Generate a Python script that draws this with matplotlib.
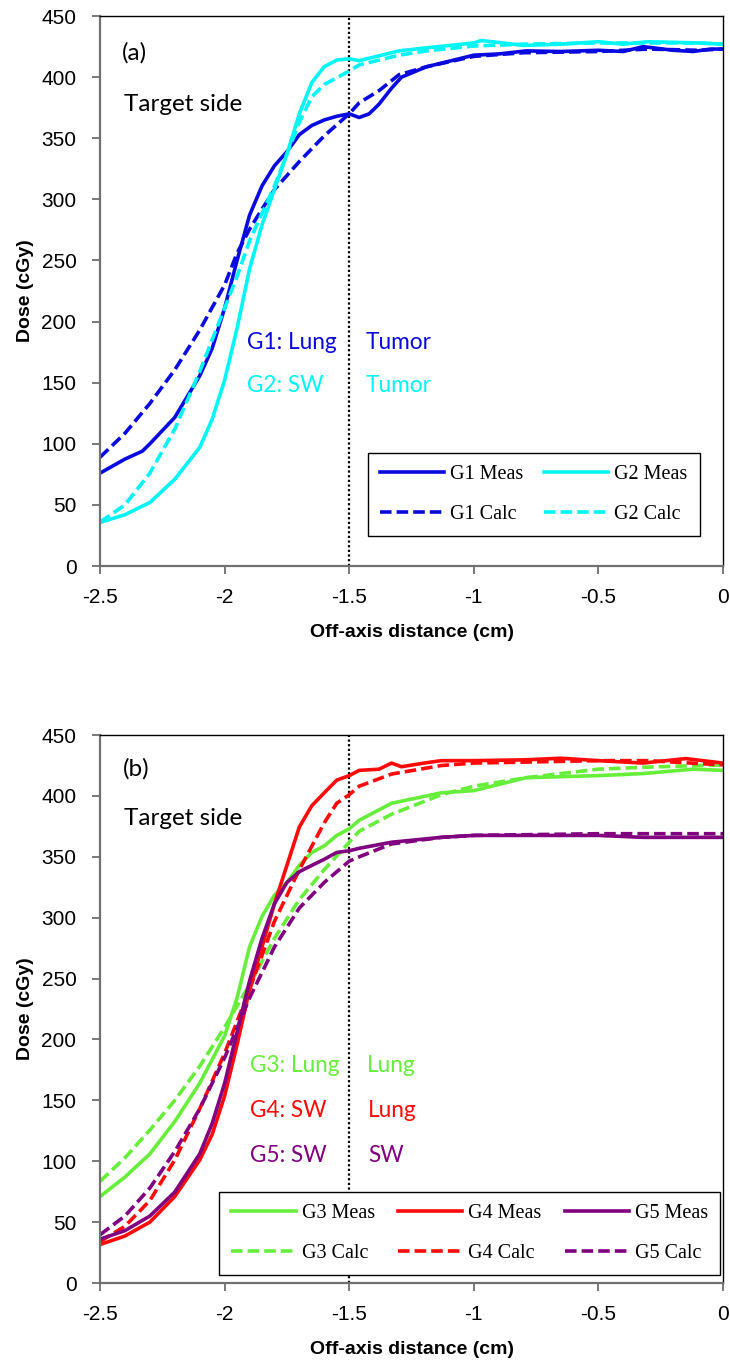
import matplotlib
matplotlib.use("Agg")
import matplotlib.pyplot as plt

# ---- data (x in cm, dose in cGy) ----
# panel (a)
g1_meas_x = [-2.5, -2.4, -2.33, -2.3, -2.2, -2.1, -2.05, -2.0, -1.95, -1.9, -1.85, -1.8, -1.75, -1.7,
             -1.65, -1.6, -1.55, -1.5, -1.46, -1.42, -1.38, -1.33, -1.29, -1.19, -1.1, -1.0, -0.9,
             -0.79, -0.65, -0.5, -0.4, -0.32, -0.2, -0.12, -0.05, 0.0]
g1_meas_y = [76, 87.5, 94, 100, 121.6, 155.6, 178, 211, 250, 287, 311, 327.5, 339, 353,
             360.5, 365, 368, 370, 367, 370, 378, 391, 400, 408.5, 413, 418, 419,
             421.5, 421, 422, 421, 425, 422, 421, 423, 423]

g1_calc_x = [-2.5, -2.4, -2.3, -2.2, -2.1, -2.0, -1.95, -1.9, -1.85, -1.8, -1.7, -1.6, -1.5, -1.46,
             -1.38, -1.3, -1.19, -1.0, -0.8, -0.5, -0.3, -0.1, 0.0]
g1_calc_y = [89, 108.6, 133, 160.5, 193, 230, 256, 275.6, 292, 308, 331, 352, 370, 379,
             389, 402, 408.5, 417, 420, 421, 423, 422, 423]

g2_meas_x = [-2.5, -2.4, -2.3, -2.2, -2.1, -2.05, -2.0, -1.95, -1.9, -1.85, -1.8, -1.75, -1.7, -1.65,
             -1.6, -1.55, -1.5, -1.46, -1.3, -1.19, -1.0, -0.97, -0.8, -0.65, -0.5, -0.4, -0.3, -0.1, 0.0]
g2_meas_y = [35.7, 42, 52, 71, 97, 120, 152, 194.5, 243, 279, 308, 337, 370, 395.6,
             408.6, 414, 415, 413.5, 421.5, 424, 428, 430, 426, 427, 429, 427, 429, 428, 427]

g2_calc_x = [-2.5, -2.4, -2.3, -2.2, -2.1, -2.0, -1.95, -1.9, -1.8, -1.7, -1.65, -1.6, -1.5, -1.46,
             -1.3, -1.19, -1.0, -0.8, -0.5, -0.3, -0.1, 0.0]
g2_calc_y = [36, 50, 76, 112, 159, 211, 237, 266, 311, 363, 384, 394, 405, 410,
             418, 421.5, 425.5, 427, 428, 428, 428, 427]

# panel (b)
g3_meas_x = [-2.5, -2.4, -2.3, -2.2, -2.1, -2.0, -1.95, -1.9, -1.85, -1.8, -1.75, -1.7, -1.65, -1.6,
             -1.55, -1.5, -1.46, -1.33, -1.13, -1.0, -0.79, -0.5, -0.32, -0.12, 0.0]
g3_meas_y = [71, 87, 106, 132.6, 164, 203, 234, 276, 301, 318.5, 329, 343, 353.6, 359,
             367.6, 373, 380, 394, 402.6, 404.4, 415, 416.7, 418.4, 422, 421]

g3_calc_x = [-2.5, -2.4, -2.3, -2.2, -2.1, -2.0, -1.9, -1.8, -1.7, -1.6, -1.5, -1.46, -1.33, -1.13,
             -1.0, -0.79, -0.5, -0.3, 0.0]
g3_calc_y = [83.5, 102.8, 125.6, 150, 178, 210, 245, 283, 315, 339.5, 362, 371, 385, 401,
             408, 415, 422, 423.7, 425.5]

g4_meas_x = [-2.5, -2.4, -2.3, -2.2, -2.1, -2.05, -2.0, -1.95, -1.9, -1.85, -1.8, -1.75, -1.7, -1.65,
             -1.6, -1.55, -1.5, -1.46, -1.38, -1.33, -1.29, -1.2, -1.13, -1.0, -0.79, -0.65, -0.5,
             -0.32, -0.15, 0.0]
g4_meas_y = [31.6, 38.6, 50, 71, 101, 122, 153.6, 195.7, 241, 276, 311.5, 343, 374.6, 392,
             402.6, 413, 416.7, 421, 422, 427, 424, 427, 429, 429, 429.7, 431, 429,
             427, 430.7, 427]

g4_calc_x = [-2.5, -2.4, -2.3, -2.2, -2.1, -2.0, -1.9, -1.8, -1.7, -1.6, -1.55, -1.5, -1.46, -1.33,
             -1.13, -1.0, -0.5, -0.3, 0.0]
g4_calc_y = [34, 46.6, 67.7, 101, 143, 188.7, 241, 297, 339.5, 378, 394, 401, 408, 418,
             425, 427, 429, 429, 425.5]

g5_meas_x = [-2.5, -2.4, -2.3, -2.2, -2.1, -2.05, -2.0, -1.95, -1.9, -1.85, -1.8, -1.75, -1.7, -1.65,
             -1.6, -1.55, -1.5, -1.46, -1.33, -1.13, -1.0, -0.5, -0.32, 0.0]
g5_meas_y = [36, 43, 55, 74.7, 106, 131, 164, 206, 248, 283, 311.5, 329, 337.8, 343,
             348, 353.6, 355, 357, 362, 366, 367.6, 367.6, 366, 366]

g5_calc_x = [-2.5, -2.4, -2.3, -2.2, -2.1, -2.0, -1.9, -1.8, -1.7, -1.6, -1.5, -1.46, -1.33, -1.13,
             -1.0, -0.5, 0.0]
g5_calc_y = [39.6, 55, 78, 108, 143, 185, 234, 276, 308, 329, 346.5, 350, 360.6, 366,
             367.6, 369, 369]

xticks = [-2.5, -2, -1.5, -1, -0.5, 0]
xtick_labels = ["-2.5", "-2", "-1.5", "-1", "-0.5", "0"]
yticks = list(range(0, 451, 50))

BLUE = "#0A0AE0"
CYAN = "#00F5F5"
GREEN = "#66EE3A"
RED = "#FF0A0A"
PURPLE = "#800080"

plt.rcParams['font.family'] = ['Liberation Sans', 'DejaVu Sans']

fig = plt.figure(figsize=(7.3, 13.61), dpi=100)
ax_a = fig.add_axes([0.1370, 0.5841, 0.8534, 0.4041])
ax_b = fig.add_axes([0.1370, 0.0573, 0.8534, 0.4026])

LW = 2.6
DASH = (3.2, 1.4)


def style_axes(ax):
    ax.set_xlim(-2.5, 0)
    ax.set_ylim(0, 450)
    ax.set_xticks(xticks)
    ax.set_xticklabels(xtick_labels)
    ax.set_yticks(yticks)
    ax.tick_params(axis='both', direction='out', length=6, width=1.3, color='#707070',
                   labelsize=15, pad=11)
    ax.tick_params(axis='x', pad=10)
    for side in ['left', 'bottom']:
        ax.spines[side].set_color('#707070')
        ax.spines[side].set_linewidth(1.6)
    for side in ['top', 'right']:
        ax.spines[side].set_color('black')
        ax.spines[side].set_linewidth(1.0)
    ax.set_xlabel('Off-axis distance (cm)', fontsize=14, fontweight='bold', labelpad=12)
    ax.set_ylabel('Dose (cGy)', fontsize=14, fontweight='bold', labelpad=5)
    ax.axvline(-1.5, color='black', linestyle=(0, (1, 1.1)), linewidth=1.6, zorder=1)


def note(ax, x, y, s, c, size=16.3):
    ax.text(x, y, s, color=c, fontsize=size, family=['Lato', 'DejaVu Sans'],
            ha='left', va='center')


def add_legend(ax, ncol, x0, y0, colsp):
    leg = ax.legend(ncol=ncol, loc='lower left', bbox_to_anchor=(x0, y0),
                    prop={'family': 'Liberation Serif', 'size': 14.5},
                    handlelength=3.2, handletextpad=0.3, columnspacing=colsp,
                    labelspacing=1.05, borderpad=0.6, borderaxespad=0,
                    fancybox=False, edgecolor='black', framealpha=1)
    leg.get_frame().set_linewidth(1.0)
    leg.set_zorder(5)
    return leg


# ---- panel (a) ----
style_axes(ax_a)
ax_a.plot(g1_meas_x, g1_meas_y, color=BLUE, lw=LW, label='G1 Meas')
ax_a.plot(g1_calc_x, g1_calc_y, color=BLUE, lw=LW, dashes=DASH, label='G1 Calc')
ax_a.plot(g2_meas_x, g2_meas_y, color=CYAN, lw=LW, label='G2 Meas')
ax_a.plot(g2_calc_x, g2_calc_y, color=CYAN, lw=LW, dashes=DASH, label='G2 Calc')

note(ax_a, -2.412, 420, '(a)', 'black', 17.5)
note(ax_a, -2.404, 378, 'Target side', 'black', 17.5)
note(ax_a, -1.91, 183, 'G1: Lung', BLUE)
note(ax_a, -1.433, 183, 'Tumor', BLUE)
note(ax_a, -1.91, 147.5, 'G2: SW', CYAN)
note(ax_a, -1.433, 147.5, 'Tumor', CYAN)

add_legend(ax_a, 2, 0.430, 0.0545, 1.0)

# ---- panel (b) ----
style_axes(ax_b)
ax_b.plot(g3_meas_x, g3_meas_y, color=GREEN, lw=LW, label='G3 Meas')
ax_b.plot(g3_calc_x, g3_calc_y, color=GREEN, lw=LW, dashes=DASH, label='G3 Calc')
ax_b.plot(g4_meas_x, g4_meas_y, color=RED, lw=LW, label='G4 Meas')
ax_b.plot(g4_calc_x, g4_calc_y, color=RED, lw=LW, dashes=DASH, label='G4 Calc')
ax_b.plot(g5_meas_x, g5_meas_y, color=PURPLE, lw=LW, label='G5 Meas')
ax_b.plot(g5_calc_x, g5_calc_y, color=PURPLE, lw=LW, dashes=DASH, label='G5 Calc')

note(ax_b, -2.41, 422, '(b)', 'black', 17.5)
note(ax_b, -2.404, 381.6, 'Target side', 'black', 17.5)
note(ax_b, -1.90, 179, 'G3: Lung', GREEN)
note(ax_b, -1.43, 179, 'Lung', GREEN)
note(ax_b, -1.90, 142, 'G4: SW', RED)
note(ax_b, -1.425, 142, 'Lung', RED)
note(ax_b, -1.90, 105, 'G5: SW', PURPLE)
note(ax_b, -1.425, 105, 'SW', PURPLE)

add_legend(ax_b, 3, 0.191, 0.0146, 1.15)

fig.savefig('out.png', dpi=100)
